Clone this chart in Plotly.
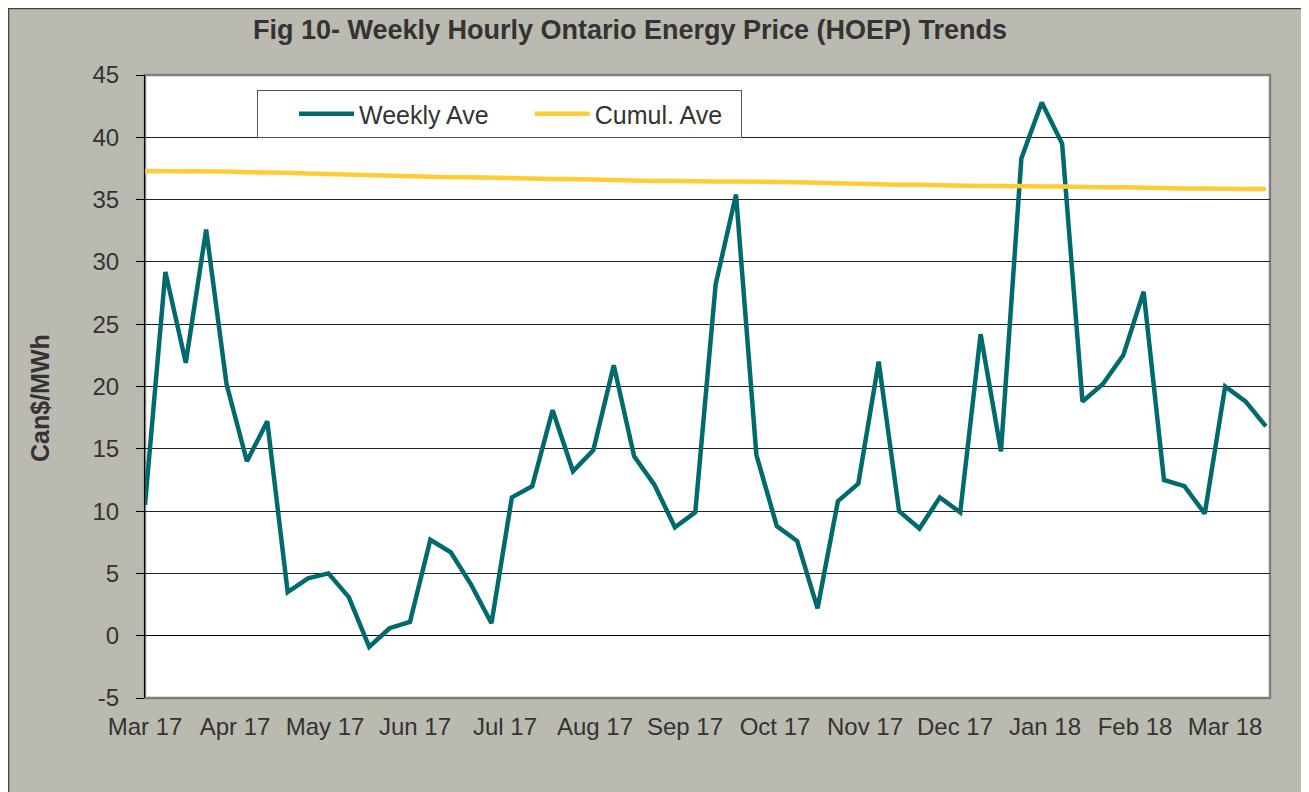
import plotly.graph_objects as go

# month labels on the category axis
MONTHS = ["Mar 17", "Apr 17", "May 17", "Jun 17", "Jul 17", "Aug 17", "Sep 17",
          "Oct 17", "Nov 17", "Dec 17", "Jan 18", "Feb 18", "Mar 18"]

# weekly HOEP, Can$/MWh
WEEK = list(range(56))
WEEKLY_AVE = [
    10.5, 29.2, 21.9, 32.6, 20.2, 14.0, 17.2, 3.5, 4.6, 5.0,
    3.1, -0.9, 0.6, 1.1, 7.7, 6.7, 4.1, 1.0, 11.1, 12.0,
    18.1, 13.2, 14.9, 21.7, 14.4, 12.1, 8.7, 9.9, 28.2, 35.4,
    14.5, 8.8, 7.6, 2.2, 10.8, 12.2, 22.0, 10.0, 8.6, 11.1,
    9.9, 24.2, 14.8, 38.3, 42.8, 39.5, 18.8, 20.2, 22.5, 27.6,
    12.5, 12.0, 9.8, 20.0, 18.8, 16.8,
]
CUMUL_AVE = [
    37.3, 37.3, 37.3, 37.3, 37.25, 37.2, 37.2, 37.15, 37.1, 37.05,
    37.0, 36.95, 36.9, 36.85, 36.85, 36.8, 36.8, 36.75, 36.7, 36.7,
    36.65, 36.65, 36.6, 36.6, 36.55, 36.5, 36.5, 36.45, 36.45, 36.45,
    36.45, 36.4, 36.4, 36.35, 36.3, 36.25, 36.25, 36.2, 36.2, 36.15,
    36.1, 36.1, 36.1, 36.05, 36.05, 36.05, 36.0, 36.0, 36.0, 35.95,
    35.95, 35.9, 35.9, 35.85, 35.85, 35.85,
]
Y_TICKS = [-5, 0, 5, 10, 15, 20, 25, 30, 35, 40, 45]

X_MAX = 55.2
month_pos = [k * X_MAX / 12.5 for k in range(len(MONTHS))]

FONT = "Liberation Sans, Arial, sans-serif"
TXT = "#333333"

# page has an 8px body margin, so the figure is a bit smaller than the window
W, H = 1301, 784
ML, MR, MT, MB = 137, 39, 67, 94
PW, PH = W - ML - MR, H - MT - MB

fig = go.Figure()
fig.add_trace(go.Scatter(
    x=WEEK, y=WEEKLY_AVE, mode="lines", name="Weekly Ave",
    line=dict(color="#006A6C", width=4.5),
))
fig.add_trace(go.Scatter(
    x=WEEK, y=CUMUL_AVE, mode="lines", name="Cumul. Ave\u00a0\u00a0",
    line=dict(color="#FFCC33", width=4.5),
))

tick_axis = dict(
    overlaying="x", matches="x", anchor="free", position=0.1,
    tickmode="array", tickvals=month_pos, showticklabels=False,
    ticklen=7, tickcolor="#000000", tickwidth=1, showgrid=False,
    zeroline=False, showline=False,
)

fig.update_layout(
    width=W, height=H,
    margin=dict(l=ML, r=MR, t=MT, b=MB),
    paper_bgcolor="#ffffff",
    plot_bgcolor="rgba(0,0,0,0)",
    font=dict(family=FONT, color=TXT, size=24),
    title=dict(
        text="<b>Fig 10- Weekly Hourly Ontario Energy Price (HOEP) Trends</b>",
        x=622 / W, xanchor="center", y=1 - 22 / H, yanchor="middle",
        font=dict(family=FONT, size=27, color=TXT),
    ),
    xaxis=dict(
        range=[0, X_MAX], tickmode="array", tickvals=month_pos, ticktext=MONTHS,
        ticks="", showgrid=False, zeroline=False, showline=False,
        ticklabelstandoff=12,
        tickfont=dict(family=FONT, size=24, color=TXT),
    ),
    xaxis2=dict(tick_axis, ticks="outside"),
    xaxis3=dict(tick_axis, ticks="inside"),
    yaxis=dict(
        range=[-5, 45], tickmode="array", tickvals=Y_TICKS,
        ticktext=[str(v) for v in Y_TICKS],
        showgrid=True, gridcolor="#222222", gridwidth=1,
        zeroline=True, zerolinecolor="#000000", zerolinewidth=1,
        showline=True, linecolor="#000000", linewidth=1,
        ticks="outside", ticklen=8, tickcolor="#000000",
        ticklabelstandoff=12,
        tickfont=dict(family=FONT, size=24, color=TXT),
    ),
    legend=dict(
        orientation="h", x=0.0996, y=(H - MB - 82) / PH, xanchor="left", yanchor="top",
        bgcolor="#ffffff", bordercolor="#555555", borderwidth=1,
        font=dict(family=FONT, size=25, color=TXT),
        itemwidth=55, indentation=36,
    ),
    showlegend=True,
)

# grey chart frame and white plot area
fig.add_shape(type="rect", xref="paper", yref="paper",
              x0=(0.5 - ML) / PW, x1=(1294 - ML) / PW,
              y0=-0.3, y1=(H - MB - 0.5) / PH,
              fillcolor="#BBBAB0", line=dict(color="#444444", width=1.5),
              layer="below")
fig.add_shape(type="rect", xref="paper", yref="paper",
              x0=0, x1=1, y0=0, y1=1,
              fillcolor="#ffffff", line=dict(color="#808080", width=2.5),
              layer="below")

fig.add_annotation(
    text="<b>Can$/MWh</b>", xref="paper", yref="paper",
    x=(32 - ML) / PW, y=(H - MB - 390) / PH, textangle=-90,
    xanchor="center", yanchor="middle",
    showarrow=False, font=dict(family=FONT, size=25, color=TXT),
)

fig.write_html("out.html")
